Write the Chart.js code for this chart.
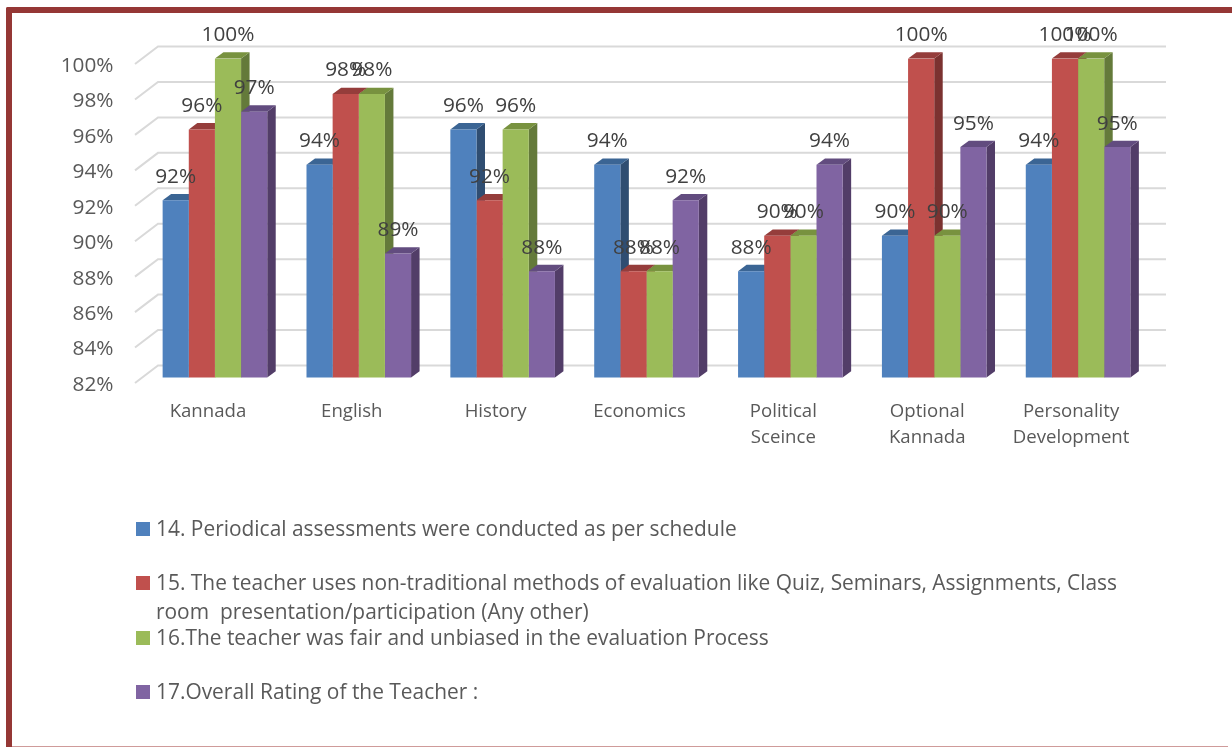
<!DOCTYPE html>
<html><head><meta charset="utf-8">
<style>
html,body{margin:0;padding:0;background:#fff;overflow:hidden}
#wrap{position:relative;width:1232px;height:747px;overflow:hidden}
#frame{position:absolute;left:6px;top:7px;width:1222px;height:739px;border-style:solid;border-color:#953735;border-width:6px 4px 0 6.5px;box-sizing:content-box;border-radius:2px 0 0 0}
#foot{position:absolute;left:12px;top:746px;width:1216px;height:1px;background:#cf9b9a}
canvas{position:absolute;left:0;top:0}
</style>
<script src="https://cdn.jsdelivr.net/npm/chart.js@4"></script>
</head><body>
<div id="wrap"><div id="frame"></div><div id="foot"></div><canvas id="c" width="1232" height="747"></canvas></div>
<script>
const categories = ["Kannada","English","History","Economics",["Political","Sceince"],["Optional","Kannada"],["Personality","Development"]];
const seriesNames = [
  "14. Periodical assessments were conducted as per schedule",
  "15. The teacher uses non-traditional methods of evaluation like Quiz, Seminars, Assignments, Class room  presentation/participation (Any other)",
  "16.The teacher was fair and unbiased in the evaluation Process",
  "17.Overall Rating of the Teacher :"
];
const legendLines = [
  ["14. Periodical assessments were conducted as per schedule"],
  ["15. The teacher uses non-traditional methods of evaluation like Quiz, Seminars, Assignments, Class","room  presentation/participation (Any other)"],
  ["16.The teacher was fair and unbiased in the evaluation Process"],
  ["17.Overall Rating of the Teacher :"]
];
const periodical = [92,94,96,94,88,90,94];
const nonTraditional = [96,98,92,88,90,100,100];
const fairUnbiased = [100,98,96,88,90,90,100];
const overallRating = [97,89,88,92,94,95,95];
const frontColors = ["#4F81BD","#C0504D","#9BBB59","#8064A2"];
const topColors = ["#3B6594","#953D3B","#78923F","#624C7F"];
const sideColors = ["#2F4D71","#7B3230","#647A3A","#523D68"];

const FONT = '"Open Sans"';
const DX = 8.5, DY = 6.3;

const threeD = {
  id:'threeD',
  beforeDraw(chart){
    const {x,y} = chart.scales;
    for(const it of y.getLabelItems(chart.chartArea)){ if(!it._m){it._m=1; it.options.translation[1]+=7.5;} }
    for(const it of x.getLabelItems(chart.chartArea)){ if(!it._m){it._m=1; it.options.translation[0]-=7;} }
    const ctx = chart.ctx, a = chart.chartArea;
    ctx.save();
    ctx.strokeStyle='#D9D9D9'; ctx.lineWidth=2;
    for(const t of y.ticks){
      const py = y.getPixelForValue(t.value);
      ctx.beginPath();
      ctx.moveTo(a.left-8, py+5.5);
      ctx.lineTo(a.left+15, py-12);
      ctx.lineTo(a.right+16, py-12);
      ctx.stroke();
    }
    ctx.restore();
  },
  beforeDatasetsDraw(chart){
    const ctx = chart.ctx, bot = chart.chartArea.bottom;
    const n = chart.data.labels.length;
    ctx.save();
    for(let i=0;i<n;i++){
      chart.data.datasets.forEach((ds,d)=>{
        const b = chart.getDatasetMeta(d).data[i];
        const l=b.x-b.width/2, r=b.x+b.width/2, t=b.y;
        ctx.fillStyle=sideColors[d];
        ctx.beginPath();ctx.moveTo(r,t);ctx.lineTo(r+DX,t-DY);ctx.lineTo(r+DX,bot-DY);ctx.lineTo(r,bot);ctx.closePath();ctx.fill();
        ctx.fillStyle=topColors[d];
        ctx.beginPath();ctx.moveTo(l,t);ctx.lineTo(l+DX,t-DY);ctx.lineTo(r+DX,t-DY);ctx.lineTo(r,t);ctx.closePath();ctx.fill();
      });
    }
    ctx.restore();
  },
  afterDatasetsDraw(chart){
    const ctx = chart.ctx;
    ctx.save();
    ctx.font='20.8px '+FONT; ctx.fillStyle='#404040'; ctx.textAlign='center'; ctx.textBaseline='middle';
    chart.data.datasets.forEach((ds,d)=>{
      chart.getDatasetMeta(d).data.forEach((b,i)=>{
        ctx.fillText(ds.data[i]+'%', b.x, b.y-23.5);
      });
    });
    ctx.restore();
  },
  afterDraw(chart){
    const ctx = chart.ctx;
    const ys=[529,583,638,692];
    ctx.save();
    ctx.font='20.92px '+FONT; ctx.textBaseline='middle'; ctx.textAlign='left';
    legendLines.forEach((lines,d)=>{
      ctx.fillStyle=frontColors[d];
      ctx.fillRect(136,ys[d]-7,14,14);
      ctx.fillStyle='#595959';
      lines.forEach((s,k)=>ctx.fillText(s,156,ys[d]+1+k*29));
    });
    ctx.restore();
  }
};

const mk=(i,data)=>({label:seriesNames[i],data,backgroundColor:frontColors[i],borderWidth:0,categoryPercentage:0.727,barPercentage:1});
new Chart(document.getElementById('c'),{
  type:'bar',
  data:{labels:categories,datasets:[mk(0,periodical),mk(1,nonTraditional),mk(2,fairUnbiased),mk(3,overallRating)]},
  plugins:[threeD],
  options:{
    responsive:false,animation:false,
    layout:{padding:{top:58.5,right:82,left:0,bottom:0}},
    plugins:{legend:{display:false},tooltip:{enabled:false}},
    scales:{
      x:{grid:{display:false,drawTicks:false},border:{display:false},
        afterFit(s){s.height=369.5;},
        ticks:{padding:21,maxRotation:0,minRotation:0,autoSkip:false,color:'#595959',font:{family:FONT,size:18.6,lineHeight:1.4}}},
      y:{min:82,max:100,grid:{display:false,drawTicks:false},border:{display:false},
        afterFit(s){s.width=143;},
        ticks:{stepSize:2,padding:29.5,color:'#595959',font:{family:FONT,size:20.8},callback:v=>v+'%'}}
    }
  }
});
</script>
</body></html>
